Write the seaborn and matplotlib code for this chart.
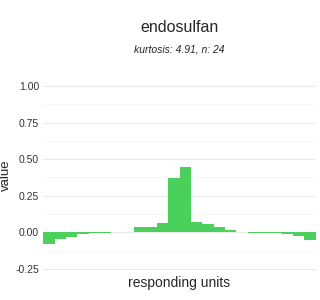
import matplotlib
matplotlib.use("Agg")
import matplotlib.pyplot as plt
import seaborn as sns
import numpy as np
import pandas as pd

title = "endosulfan"
subtitle = "kurtosis: 4.91, n: 24"
units = [str(i) for i in range(1, 25)]
values = [-0.082, -0.047, -0.028, -0.014, -0.005, -0.004, 0.001, 0.005,
          0.039, 0.039, 0.066, 0.373, 0.448, 0.073, 0.059, 0.039,
          0.018, 0.005, -0.003, -0.003, -0.003, -0.014, -0.021, -0.055]
yticks = [-0.25, 0.0, 0.25, 0.5, 0.75, 1.0]
ytick_labels = ["-0.25", "0.00", "0.25", "0.50", "0.75", "1.00"]

sns.set_theme(style="white")
plt.rcParams['font.family'] = ['Liberation Sans', 'DejaVu Sans']

df = pd.DataFrame({"unit": units, "value": values})

fig = plt.figure(figsize=(3.2, 3.0), dpi=100)
ax = fig.add_axes([0.135, 0.09, 0.852, 0.654])

sns.barplot(data=df, x="unit", y="value", color="#4BD05B", saturation=1,
            width=1.0, ax=ax, zorder=3, linewidth=0)

ax.set_xlim(-0.5, len(units) - 0.5)
ax.set_ylim(-0.277, 1.0625)
ax.set_yticks(yticks)
ax.set_yticklabels(ytick_labels, fontsize=7.5, color="#333333")
ax.set_yticks([-0.125, 0.125, 0.375, 0.625, 0.875], minor=True)
ax.grid(axis="y", which="major", color="#EBEBEB", linewidth=0.8, zorder=0)
ax.grid(axis="y", which="minor", color="#F5F5F5", linewidth=0.6, zorder=0)
ax.grid(axis="x", visible=False)
ax.set_xticks([])
ax.tick_params(axis="y", which="both", length=0, pad=3)
for s in ax.spines.values():
    s.set_visible(False)
ax.set_axisbelow(True)

ax.set_xlabel("responding units", fontsize=10, labelpad=2)
ax.set_ylabel("value", fontsize=9.5)
ax.yaxis.set_label_coords(-0.116, 0.5)

fig.text(0.561, 0.91, title, ha="center", va="center", fontsize=11.5)
fig.text(0.561, 0.835, subtitle, ha="center", va="center", fontsize=7.5, style="italic")

fig.savefig("out.png", dpi=100, facecolor="white")
